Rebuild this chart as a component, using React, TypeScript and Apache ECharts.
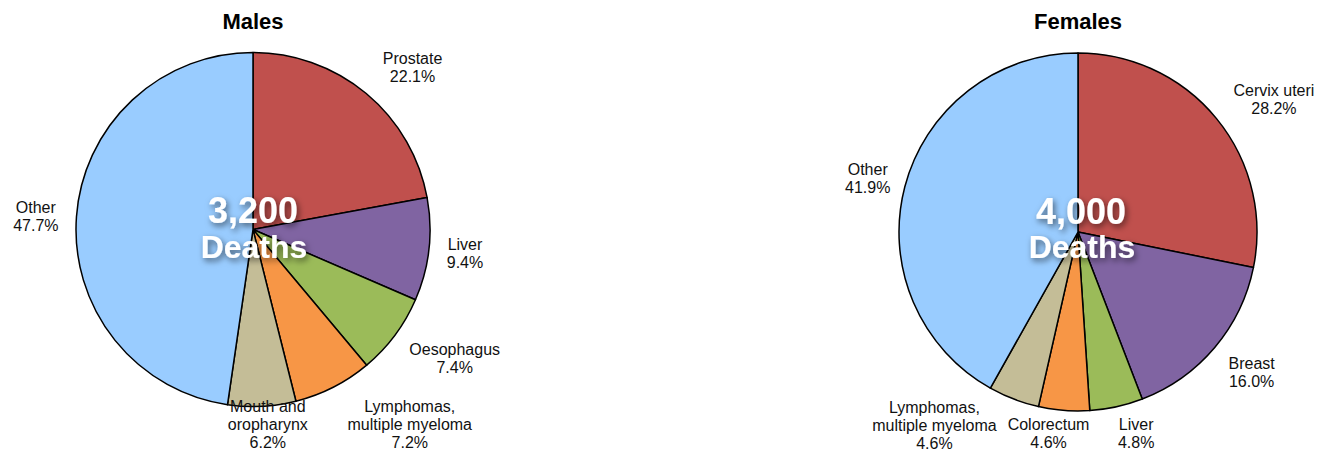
import React, { useEffect, useRef } from 'react';
import * as echarts from 'echarts';

// ---- data ----
const maleCategories = ['Prostate', 'Liver', 'Oesophagus', 'Lymphomas,\nmultiple myeloma', 'Mouth and\noropharynx', 'Other'];
const maleValues = [22.1, 9.4, 7.4, 7.2, 6.2, 47.7];
const femaleCategories = ['Cervix uteri', 'Breast', 'Liver', 'Colorectum', 'Lymphomas,\nmultiple myeloma', 'Other'];
const femaleValues = [28.2, 16.0, 4.8, 4.6, 4.6, 41.9];
const maleTitle = 'Males';
const femaleTitle = 'Females';
const maleDeaths = '3,200';
const femaleDeaths = '4,000';
const deathsWord = 'Deaths';

// ---- styles / layout ----
const sliceColors = ['#C0504D', '#8064A2', '#9BBB59', '#F79646', '#C4BD97', '#99CCFF'];
const FONT = '"Liberation Sans", Arial, Helvetica, sans-serif';
const maleLayout = { cx: 253, cy: 229.5, r: 177 };
const femaleLayout = { cx: 1078, cy: 232, r: 179 };
const maleNudges = [[5, 4], [0, 0], [0, 0], [6, 0], [0, 0], [0, 3]];
const femaleNudges = [[3, 5], [0, 0], [6, 0], [-6, 0], [-17, 1], [3, 2]];
const BOTTOM_LIMIT = 451;

function makeLabelLayout(values: number[], lay: { cx: number; cy: number; r: number }, nudges: number[][]) {
  const total = values.reduce((a, b) => a + b, 0);
  const clamp = (v: number) => Math.max(-1, Math.min(1, v));
  return (params: any) => {
    const i = params.dataIndex;
    let before = 0;
    for (let k = 0; k < i; k++) before += values[k];
    const mid = ((before + values[i] / 2) / total) * Math.PI * 2;
    const nx = Math.sin(mid);
    const ny = -Math.cos(mid);
    const d = lay.r + 18;
    const w = params.labelRect.width / 2;
    const h = params.labelRect.height / 2 - 2;
    let x = lay.cx + d * nx + w * clamp(2.5 * nx);
    let y = lay.cy + d * ny + h * clamp(1.3 * ny);
    y = Math.min(y, BOTTOM_LIMIT - params.labelRect.height / 2);
    x += nudges[i][0];
    y += nudges[i][1];
    return { x, y, align: 'center', verticalAlign: 'middle' };
  };
}

function makeSeries(cats: string[], vals: number[], lay: { cx: number; cy: number; r: number }, nudges: number[][]) {
  return {
    type: 'pie',
    center: [lay.cx, lay.cy],
    radius: lay.r,
    startAngle: 90,
    clockwise: true,
    silent: true,
    avoidLabelOverlap: false,
    data: cats.map((name, i) => ({ name, value: vals[i], itemStyle: { color: sliceColors[i] } })),
    itemStyle: { borderColor: '#000', borderWidth: 1.5 },
    label: {
      show: true,
      position: 'outside',
      formatter: (p: any) => `${p.name}\n${Number(p.value).toFixed(1)}%`,
      fontFamily: FONT,
      fontSize: 16,
      lineHeight: 18,
      color: '#111',
      align: 'center',
    },
    labelLine: { show: false },
    labelLayout: makeLabelLayout(vals, lay, nudges),
    emphasis: { disabled: true },
  };
}

function centerText(text: string, x: number, y: number, size: number) {
  return {
    type: 'text',
    x,
    y,
    z: 100,
    style: {
      text,
      fill: '#ffffff',
      font: `bold ${size}px ${FONT}`,
      align: 'center',
      verticalAlign: 'middle',
      textShadowColor: 'rgba(0,0,0,0.55)',
      textShadowBlur: 6,
      textShadowOffsetX: 2,
      textShadowOffsetY: 3,
    },
  };
}

function titleText(text: string, x: number, y: number) {
  return {
    type: 'text',
    x,
    y,
    style: {
      text,
      fill: '#000',
      font: `bold 22px ${FONT}`,
      align: 'center',
      verticalAlign: 'middle',
    },
  };
}

export default function App() {
  const ref = useRef<HTMLDivElement>(null);
  useEffect(() => {
    if (!ref.current) return;
    const chart = echarts.init(ref.current, null, { renderer: 'svg' });
    chart.setOption({
      animation: false,
      backgroundColor: '#ffffff',
      series: [
        makeSeries(maleCategories, maleValues, maleLayout, maleNudges),
        makeSeries(femaleCategories, femaleValues, femaleLayout, femaleNudges),
      ],
      graphic: [
        titleText(maleTitle, maleLayout.cx, 21),
        titleText(femaleTitle, femaleLayout.cx, 21),
        centerText(maleDeaths, maleLayout.cx, 210, 36),
        centerText(deathsWord, maleLayout.cx + 1, 247, 32),
        centerText(femaleDeaths, femaleLayout.cx + 3, 211, 36),
        centerText(deathsWord, femaleLayout.cx + 4, 247, 32),
      ],
    });
    return () => chart.dispose();
  }, []);
  return (
    <div
      ref={ref}
      style={{ position: 'absolute', left: 0, top: 0, width: 1321, height: 451, background: '#fff' }}
    />
  );
}
